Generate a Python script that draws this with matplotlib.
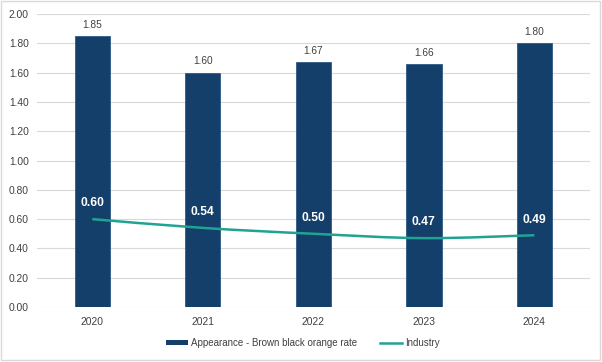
import matplotlib
matplotlib.use('Agg')
import matplotlib.pyplot as plt
import numpy as np
from matplotlib.path import Path
from matplotlib.patches import PathPatch, Rectangle
from matplotlib.lines import Line2D

years = ['2020', '2021', '2022', '2023', '2024']
appearance = [1.85, 1.60, 1.67, 1.66, 1.80]
industry = [0.60, 0.54, 0.50, 0.47, 0.49]

bar_color = '#133f6a'
line_color = '#21a393'
text_color = '#404040'

plt.rcParams['font.family'] = ['Liberation Sans', 'DejaVu Sans']

fig = plt.figure(figsize=(6.02, 3.62), dpi=100)
ax = fig.add_axes([0.0615, 0.152, 0.918, 0.809])

x = np.arange(len(years))
ax.bar(x, appearance, width=0.32, color=bar_color, edgecolor='#2d5a85',
       linewidth=0.6, zorder=2)
for xi, v in zip(x, appearance):
    ax.annotate('%.2f' % v, (xi, v), xytext=(0, 4.5), textcoords='offset points',
                ha='center', va='bottom', fontsize=7.3, color=text_color)

# smoothed line (catmull-rom -> bezier), drawn through the data points
pts = np.column_stack([x, industry]).astype(float)
verts = [tuple(pts[0])]
codes = [Path.MOVETO]
for i in range(len(pts) - 1):
    p0 = pts[i - 1] if i > 0 else pts[i]
    p1 = pts[i]
    p2 = pts[i + 1]
    p3 = pts[i + 2] if i + 2 < len(pts) else pts[i + 1]
    c1 = p1 + (p2 - p0) / 6.0
    c2 = p2 - (p3 - p1) / 6.0
    verts += [tuple(c1), tuple(c2), tuple(p2)]
    codes += [Path.CURVE4] * 3
ax.add_patch(PathPatch(Path(verts, codes), facecolor='none',
                       edgecolor=line_color, linewidth=1.8, zorder=3))
for xi, v in zip(x, industry):
    ax.annotate('%.2f' % v, (xi, v), xytext=(0, 7), textcoords='offset points',
                ha='center', va='bottom', fontsize=8.7, color='white',
                fontweight='bold', zorder=4)

ax.set_xlim(-0.5, len(years) - 0.5)
ax.set_ylim(0, 2.0)
ax.set_yticks(np.arange(0, 2.01, 0.2))
ax.set_yticklabels(['%.2f' % t for t in np.arange(0, 2.01, 0.2)])
ax.set_xticks(x)
ax.set_xticklabels(years)
ax.tick_params(length=0, labelsize=7.4, colors=text_color, pad=7)
ax.tick_params(axis='y', pad=6)
ax.grid(axis='y', color='#d9d9d9', linewidth=0.8, zorder=0)
ax.set_axisbelow(True)
for s in ax.spines.values():
    s.set_visible(False)

handles = [Rectangle((0, 0), 1, 1, facecolor=bar_color),
           Line2D([0], [0], color=line_color, linewidth=1.8)]
fig.legend(handles, ['Appearance - Brown black orange rate', 'Industry'],
           loc='center', bbox_to_anchor=(0.503, 0.052), ncol=2, frameon=False,
           fontsize=7, handlelength=2.3, handleheight=0.45, columnspacing=2.3,
           handletextpad=0.3, labelcolor=text_color)

fig.patches.append(Rectangle((0.002, 0.006), 0.995, 0.99, transform=fig.transFigure,
                             fill=False, edgecolor='#d9d9d9', linewidth=1))

fig.savefig('out.png', dpi=100)
